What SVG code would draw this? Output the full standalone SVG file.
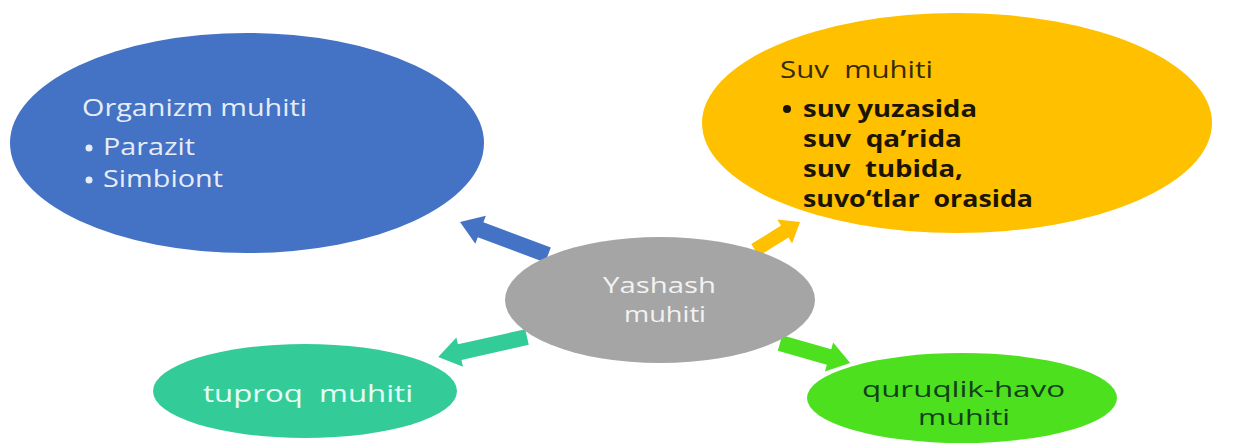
<svg xmlns="http://www.w3.org/2000/svg" width="1249" height="448" viewBox="0 0 1249 448">
<style>
.t{font-family:"Open Sans","Noto Sans","Liberation Sans",sans-serif;font-size:24px;font-variant-ligatures:none}
.b{font-weight:bold;font-size:23px}
.s{font-size:22px}
</style>
<rect width="1249" height="448" fill="#ffffff"/>
<g id="connectors">
<polygon transform="translate(548,255) rotate(200.6)" points="0,-8 72,-8 72,-15 94,0 72,15 72,8 0,8" fill="#4472c4"/>
<polygon transform="translate(755,250) rotate(-31.9)" points="0,-7 35,-7 35,-14 53,0 35,14 35,7 0,7" fill="#ffc000"/>
<polygon transform="translate(527,337) rotate(167.3)" points="0,-8 69,-8 69,-15 91,0 69,15 69,8 0,8" fill="#33cc99"/>
<polygon transform="translate(780,343) rotate(15.9)" points="0,-8 51,-8 51,-15 73,0 51,15 51,8 0,8" fill="#4ce01e"/>
</g>
<g id="organizm">
<ellipse cx="247" cy="143" rx="237" ry="110" fill="#4472c4"/>
<text class="t" x="82" y="116" fill="#e6edf8" textLength="225" lengthAdjust="spacingAndGlyphs">Organizm muhiti</text>
<circle cx="89" cy="148" r="3.5" fill="#e6edf8"/>
<text class="t" x="103" y="155" fill="#e6edf8" textLength="92" lengthAdjust="spacingAndGlyphs">Parazit</text>
<circle cx="89" cy="180" r="3.5" fill="#e6edf8"/>
<text class="t" x="103" y="187" fill="#e6edf8" textLength="120" lengthAdjust="spacingAndGlyphs">Simbiont</text>
</g>
<g id="suv">
<ellipse cx="957" cy="123" rx="255" ry="110" fill="#ffc000"/>
<text class="t" x="780" y="78" fill="#3a2a00" textLength="153" lengthAdjust="spacingAndGlyphs" xml:space="preserve">Suv  muhiti</text>
<circle cx="787" cy="109" r="4" fill="#1a1400"/>
<text class="t b" x="803" y="117" fill="#1a1400" textLength="174" lengthAdjust="spacingAndGlyphs">suv yuzasida</text>
<text class="t b" x="803" y="147" fill="#1a1400" textLength="159" lengthAdjust="spacingAndGlyphs" xml:space="preserve">suv  qa’rida</text>
<text class="t b" x="803" y="177" fill="#1a1400" textLength="160" lengthAdjust="spacingAndGlyphs" xml:space="preserve">suv  tubida,</text>
<text class="t b" x="803" y="207" fill="#1a1400" textLength="230" lengthAdjust="spacingAndGlyphs" xml:space="preserve">suvo‘tlar  orasida</text>
</g>
<g id="yashash">
<ellipse cx="660" cy="300" rx="155" ry="63" fill="#a5a5a5"/>
<text class="t s" fill="#f2f2f2"><tspan x="603" y="293" textLength="113" lengthAdjust="spacingAndGlyphs">Yashash</tspan><tspan x="624" y="322" textLength="82" lengthAdjust="spacingAndGlyphs">muhiti</tspan></text>
</g>
<g id="tuproq">
<ellipse cx="305" cy="391" rx="152" ry="47" fill="#33cc99"/>
<text class="t" x="203" y="402" fill="#e6fff5" textLength="210" lengthAdjust="spacingAndGlyphs" xml:space="preserve">tuproq  muhiti</text>
</g>
<g id="quruqlik">
<ellipse cx="962" cy="398" rx="155" ry="45" fill="#4ce01e"/>
<text class="t s" fill="#12401a"><tspan x="862" y="397" textLength="203" lengthAdjust="spacingAndGlyphs">quruqlik-havo</tspan><tspan x="918" y="425" textLength="92" lengthAdjust="spacingAndGlyphs">muhiti</tspan></text>
</g>
</svg>
